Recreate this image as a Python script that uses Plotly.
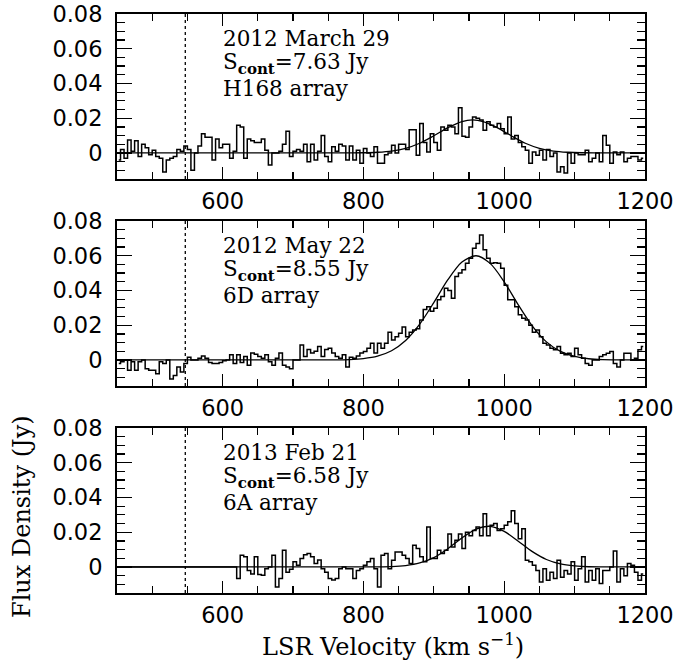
import plotly.graph_objects as go

# ---------------- data ----------------
channel_start = 452.5   # km/s, centre of first channel
channel_width = 5.0     # km/s

flux_2012_mar29 = [
    -0.004, 0.002, -0.003, 0.0075, 0.001, 0.007, -0.002, 0.005, 0.003, -0.001,
    0.0015, -0.002, -0.003, -0.011, -0.004, -0.003, -0.002, 0.002, 0.001, 0.004,
    0.002, -0.010, 0.000, 0.004, 0.011, 0.009, 0.009, -0.004, 0.008, 0.003,
    0.005, 0.005, -0.003, 0.001, 0.016, 0.015, -0.003, 0.008, 0.007, 0.006,
    0.006, 0.008, 0.0015, -0.007, 0.000, 0.000, 0.001, 0.005, 0.0125, -0.002,
    0.001, 0.002, 0.001, 0.005, -0.005, 0.005, -0.004, 0.001, 0.010, -0.002,
    -0.005, 0.0035, 0.001, 0.005, 0.004, -0.004, 0.004, -0.004, 0.0015, -0.006,
    0.0025, 0.000, -0.002, 0.0035, -0.006, -0.006, -0.001, 0.000, 0.0044, 0.000,
    0.005, 0.005, 0.002, 0.0134, 0.0134, -0.0013, 0.017, 0.006, 0.0006, 0.011,
    0.006, 0.0015, 0.015, 0.013, 0.016, 0.015, 0.011, 0.026, 0.0096, 0.009,
    0.015, 0.0207, 0.020, 0.019, 0.013, 0.018, 0.016, 0.015, 0.017, 0.014,
    0.011, 0.0207, 0.008, 0.010, 0.006, 0.0035, 0.0015, -0.006, 0.0006, -0.0013,
    0.0015, -0.004, 0.002, -0.002, 0.000, -0.011, -0.008, -0.0115, 0.000, -0.006,
    0.000, -0.001, -0.001, 0.0015, -0.005, -0.003, 0.000, -0.005, 0.010, 0.0044,
    -0.006, 0.0006, -0.001, 0.0006, -0.005, -0.003, -0.002, -0.002, -0.004, -0.003,
]

flux_2012_may22 = [
    -0.002, -0.001, 0.000, -0.006, -0.001, -0.006, -0.001, 0.000, -0.005, -0.006,
    -0.006, -0.008, -0.001, -0.002, 0.000, -0.011, -0.009, -0.004, -0.007, -0.002,
    0.0015, 0.000, 0.000, 0.001, 0.0023, 0.001, -0.0015, -0.002, -0.002, -0.0015,
    -0.0005, 0.000, 0.003, -0.002, 0.003, -0.0015, 0.002, -0.003, 0.004, 0.0033,
    0.002, 0.001, 0.003, -0.001, -0.003, 0.001, 0.004, -0.003, -0.004, -0.005,
    0.000, 0.000, 0.0086, 0.002, 0.006, 0.004, 0.005, 0.0077, 0.002, 0.006,
    0.0067, 0.004, 0.002, 0.001, 0.003, -0.004, 0.0015, 0.001, 0.0023, 0.004,
    0.0048, 0.0067, 0.0096, 0.004, 0.0096, 0.0067, 0.0096, 0.016, 0.0115, 0.0134,
    0.0154, 0.019, 0.0134, 0.016, 0.0173, 0.018, 0.023, 0.029, 0.0307, 0.028,
    0.0298, 0.0346, 0.0365, 0.0413, 0.040, 0.0355, 0.048, 0.050, 0.052, 0.0557,
    0.0586, 0.0643, 0.067, 0.072, 0.0634, 0.0586, 0.0557, 0.056, 0.0557, 0.0528,
    0.043, 0.0346, 0.0346, 0.0307, 0.026, 0.024, 0.023, 0.020, 0.016, 0.0173,
    0.0134, 0.0096, 0.0086, 0.0067, 0.0058, 0.0077, 0.0038, 0.003, 0.0038, 0.002,
    0.0067, 0.003, 0.001, -0.002, -0.003, 0.000, 0.000, 0.002, 0.003, 0.0038,
    0.0048, -0.002, -0.004, 0.000, 0.0038, 0.0038, 0.000, 0.001, 0.0058, 0.0077,
]

flux_2013_feb21 = [
    0.0, 0.0, 0.0, 0.0, 0.0, 0.0, 0.0, 0.0, 0.0, 0.0,
    0.0, 0.0, 0.0, 0.0, 0.0, 0.0, 0.0, 0.0, 0.0, 0.0,
    0.0, 0.0, 0.0, 0.0, 0.0, 0.0, 0.0, 0.0, 0.0, 0.0,
    0.0, 0.0, 0.0, 0.0,
    -0.0067, 0.0067, 0.0058, -0.002, -0.004, 0.0058, -0.0044, -0.0048, -0.001, 0.000,
    0.0067, -0.0115, -0.0067, 0.0096, -0.003, -0.0013, 0.003, 0.001, 0.0048, 0.007,
    0.0077, 0.0058, 0.002, 0.004, -0.001, -0.003, -0.0067, -0.0075, -0.0067, -0.001,
    0.000, -0.001, -0.001, -0.0067, -0.002, -0.001, 0.001, 0.003, 0.0048, -0.001,
    -0.0115, 0.0067, 0.0077, -0.001, 0.0038, 0.0086, 0.0086, 0.0067, 0.0048, 0.002,
    0.0125, 0.0106, 0.0058, 0.003, 0.023, 0.0048, 0.0048, 0.0096, 0.0077, 0.0096,
    0.019, 0.0115, 0.0154, 0.019, 0.0106, 0.020, 0.018, 0.021, 0.023, 0.018,
    0.0307, 0.018, 0.024, 0.025, 0.021, 0.022, 0.024, 0.026, 0.0323, 0.025,
    0.0163, 0.022, 0.0038, 0.003, 0.001, -0.002, -0.0086, -0.001, -0.0077, -0.003,
    -0.0067, 0.0038, -0.006, -0.002, -0.004, 0.003, -0.0077, -0.001, 0.0058, -0.0086,
    -0.002, -0.0077, -0.001, -0.0096, -0.002, -0.002, 0.000, 0.0092, -0.0086, -0.001,
    -0.005, 0.002, 0.001, -0.003, -0.0077, -0.004,
]

# Gaussian fits at sample velocities
fit_vel_2012_mar29 = [450, 700, 780, 800, 820, 840, 860, 880, 900, 920, 940, 955,
                      970, 990, 1010, 1030, 1050, 1070, 1090, 1110, 1140, 1200]
fit_2012_mar29 = [0, 0, 0, 0.0001, 0.0004, 0.0011, 0.0027, 0.0056, 0.0099, 0.0146, 0.0181, 0.019,
                  0.0181, 0.0146, 0.0099, 0.0056, 0.0027, 0.0011, 0.0004, 0.0001, 0, 0]

fit_vel_2012_may22 = [450, 700, 760, 780, 800, 820, 840, 860, 880, 900, 920, 940, 960,
                      980, 1000, 1020, 1040, 1060, 1080, 1100, 1120, 1140, 1180, 1200]
fit_2012_may22 = [0, 0, 0, 0.0002, 0.0008, 0.0022, 0.0053, 0.0112, 0.0206, 0.0330, 0.0462, 0.0564, 0.060,
                  0.0556, 0.045, 0.0317, 0.0195, 0.0104, 0.0049, 0.002, 0.0007, 0.0002, 0, 0]

fit_vel_2013_feb21 = [450, 750, 800, 840, 860, 880, 900, 920, 940, 960, 980, 1000,
                      1020, 1040, 1060, 1080, 1100, 1120, 1150, 1200]
fit_2013_feb21 = [0, 0, 0, 0.0002, 0.0008, 0.0023, 0.0054, 0.0105, 0.0167, 0.0218, 0.0234, 0.0205,
                  0.0148, 0.0088, 0.0043, 0.0017, 0.0006, 0.0001, 0, 0]

dotted_velocity = 547

panel_dates = ["2012 March 29", "2012 May 22", "2013 Feb 21"]
panel_scont = ["7.63", "8.55", "6.58"]
panel_arrays = ["H168 array", "6D array", "6A array"]

x_tick_values = [600, 800, 1000, 1200]
y_tick_values = [0, 0.02, 0.04, 0.06, 0.08]
y_tick_labels = ["0", "0.02", "0.04", "0.06", "0.08"]

# ---------------- figure ----------------
W, H = 699, 663
x_left, x_right = 117, 645
panel_tops = [14, 221, 428]
panel_height = 165

spectra = [flux_2012_mar29, flux_2012_may22, flux_2013_feb21]
fits = [(fit_vel_2012_mar29, fit_2012_mar29),
        (fit_vel_2012_may22, fit_2012_may22),
        (fit_vel_2013_feb21, fit_2013_feb21)]

fig = go.Figure()
tick_font = dict(family="DejaVu Sans", size=22.5, color="black")
text_font = dict(family="DejaVu Serif", size=21.5, color="black")
title_font = dict(family="DejaVu Serif", size=24, color="black")

for i in range(3):
    sfx = "" if i == 0 else str(i + 1)
    flux = spectra[i]
    vel = [channel_start + channel_width * k for k in range(len(flux))]
    fig.add_trace(go.Scatter(x=vel, y=flux, mode="lines",
                             line=dict(color="black", width=1.5, shape="hvh"),
                             xaxis="x" + sfx, yaxis="y" + sfx, showlegend=False,
                             hoverinfo="skip"))
    fv, fy = fits[i]
    fig.add_trace(go.Scatter(x=fv, y=fy, mode="lines",
                             line=dict(color="black", width=1.3, shape="spline", smoothing=0.8),
                             xaxis="x" + sfx, yaxis="y" + sfx, showlegend=False,
                             hoverinfo="skip"))

    top = panel_tops[i]
    ydom = [1 - (top + panel_height) / H, 1 - top / H]
    fig.layout["xaxis" + sfx] = dict(
        domain=[x_left / W, x_right / W], range=[450, 1200], anchor="y" + sfx,
        tickvals=x_tick_values, ticks="inside", ticklen=12, tickwidth=1.3, tickcolor="black",
        minor=dict(dtick=50, tick0=0, ticks="inside", ticklen=7, tickwidth=1.3, tickcolor="black"),
        showline=True, linewidth=2, linecolor="black", mirror="allticks",
        showgrid=False, zeroline=False, tickfont=tick_font, ticklabelstandoff=1,
        automargin=False,
    )
    fig.layout["yaxis" + sfx] = dict(
        domain=ydom, range=[-0.015, 0.08], anchor="x" + sfx,
        tickvals=y_tick_values, ticktext=y_tick_labels,
        ticks="inside", ticklen=15, tickwidth=1.3, tickcolor="black",
        minor=dict(dtick=0.005, tick0=0, ticks="inside", ticklen=8, tickwidth=1.3, tickcolor="black"),
        showline=True, linewidth=2, linecolor="black", mirror="allticks",
        showgrid=False, zeroline=False, tickfont=tick_font, ticklabelstandoff=8,
        automargin=False,
    )
    fig.add_shape(type="line", xref="x" + sfx, yref="y" + sfx + " domain",
                  x0=dotted_velocity, x1=dotted_velocity, y0=0, y1=1,
                  line=dict(color="black", width=1.3, dash="dot"))
    lines = [panel_dates[i],
             "S<sub><b>cont</b></sub>=" + panel_scont[i] + " Jy",
             panel_arrays[i]]
    for j, t in enumerate(lines):
        fig.add_annotation(text=t, xref="x" + sfx, yref="paper", x=600,
                           y=1 - (top + 24.5 + 25 * j) / H,
                           xanchor="left", yanchor="middle", showarrow=False,
                           font=text_font, xshift=-2)

fig.add_annotation(text="Flux Density (Jy)", xref="paper", yref="paper",
                   x=22 / W, y=1 - 517 / H, textangle=-90, showarrow=False,
                   xanchor="center", yanchor="middle", font=title_font)
fig.add_annotation(text="LSR Velocity (km s<sup>−1</sup>)", xref="paper", yref="paper",
                   x=393 / W, y=1 - 645 / H, showarrow=False,
                   xanchor="center", yanchor="middle", font=title_font)

fig.update_layout(width=W, height=H, margin=dict(l=0, r=0, t=0, b=0, autoexpand=False),
                  paper_bgcolor="white", plot_bgcolor="white", hovermode=False)

fig.write_html("out.html", config={"displayModeBar": False, "staticPlot": True},
               post_script="document.body.style.margin='0';"
                           "document.documentElement.style.overflow='hidden';")
